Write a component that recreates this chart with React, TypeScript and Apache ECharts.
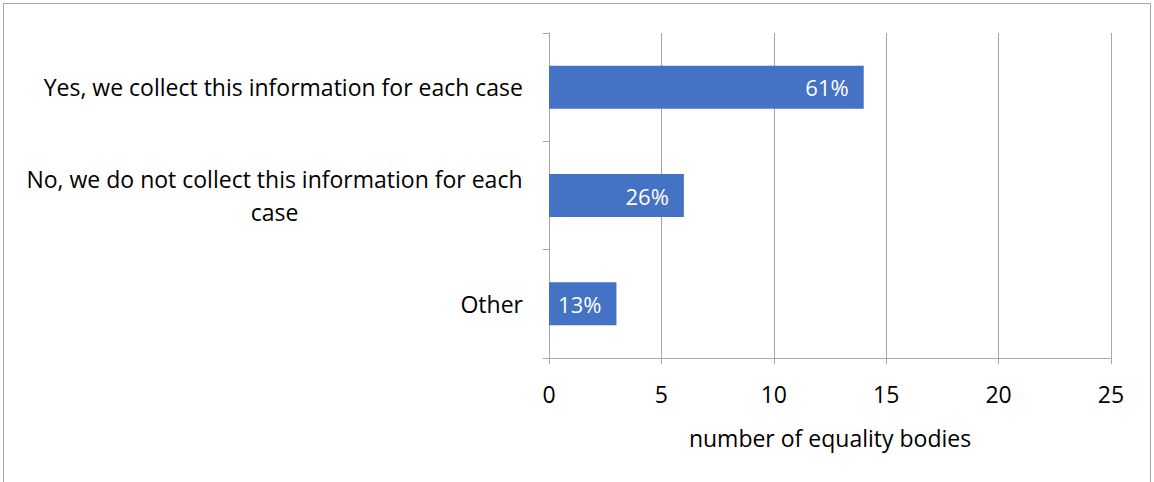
import React, { useEffect, useRef } from "react";
import * as echarts from "echarts";

const categories = [
  "Yes, we collect this information for each case",
  "No, we do not collect this information for each case",
  "Other",
];
const values = [14, 6, 3];
const percentLabels = ["61%", "26%", "13%"];
const xTicks = [0, 5, 10, 15, 20, 25];
const xAxisName = "number of equality bodies";

const FONT = "'Open Sans', Lato, sans-serif";
const FS = 23;

function measure(text: string): number {
  const c = document.createElement("canvas").getContext("2d");
  if (!c) return text.length * FS * 0.5;
  c.font = `${FS}px 'Open Sans'`;
  return Math.ceil(c.measureText(text).width);
}

export default function App() {
  const ref = useRef<HTMLDivElement>(null);
  useEffect(() => {
    if (!ref.current) return;
    const chart = echarts.init(ref.current, null, { renderer: "svg" });
    const splitLabel = (v: string) => {
      const idx = v.lastIndexOf(" ");
      return [v.slice(0, idx), v.slice(idx + 1)];
    };
    const longLine = splitLabel(categories[1])[0];
    const blockW = measure(longLine);
    chart.setOption({
      animation: false,
      textStyle: { fontFamily: FONT },
      grid: { left: 549, right: 43, top: 33, bottom: 124, containLabel: false },
      xAxis: {
        type: "value",
        min: xTicks[0],
        max: xTicks[xTicks.length - 1],
        interval: 5,
        name: xAxisName,
        nameLocation: "middle",
        nameGap: 68,
        nameTextStyle: { fontSize: FS, color: "#000", fontFamily: FONT },
        axisLine: { show: true, lineStyle: { color: "#a6a6a6", width: 1 } },
        axisTick: { show: true, length: 6, lineStyle: { color: "#a6a6a6" } },
        axisLabel: { fontSize: FS, color: "#000", margin: 24, fontFamily: FONT },
        splitLine: { show: true, lineStyle: { color: "#a6a6a6", width: 1 } },
      },
      yAxis: {
        type: "category",
        data: categories,
        inverse: true,
        axisLine: { show: true, lineStyle: { color: "#a6a6a6", width: 1 } },
        axisTick: { show: true, length: 6, lineStyle: { color: "#a6a6a6" } },
        axisLabel: {
          fontSize: FS,
          color: "#000",
          margin: 26,
          align: "right",
          fontFamily: FONT,
          lineHeight: 33,
          formatter: (v: string) => {
            if (v.length > 48) {
              const [a, b] = splitLabel(v);
              return "{a|" + a + "}\n{a|" + b + "}";
            }
            return v;
          },
          rich: {
            a: { width: blockW, align: "center", fontSize: FS, lineHeight: 33, color: "#000", fontFamily: FONT },
          },
        },
        splitLine: { show: false },
      },
      series: [
        {
          type: "bar",
          data: values,
          barWidth: 43,
          itemStyle: { color: "#4472C4" },
          label: {
            show: true,
            position: "insideRight",
            distance: 15,
            color: "#fff",
            fontSize: FS - 1,
            fontFamily: FONT,
            formatter: (p: any) => percentLabels[p.dataIndex],
          },
        },
      ],
    });
    return () => chart.dispose();
  }, []);
  return (
    <div
      style={{
        position: "absolute",
        left: 0,
        top: 0,
        width: 1154,
        height: 482,
        background: "#fff",
      }}
    >
      <div
        style={{
          position: "absolute",
          left: 3,
          top: 3,
          width: 1148,
          height: 490,
          border: "1px solid #a6a6a6",
          boxSizing: "border-box",
        }}
      />
      <div ref={ref} style={{ position: "absolute", left: 0, top: 0, width: 1154, height: 482 }} />
    </div>
  );
}
